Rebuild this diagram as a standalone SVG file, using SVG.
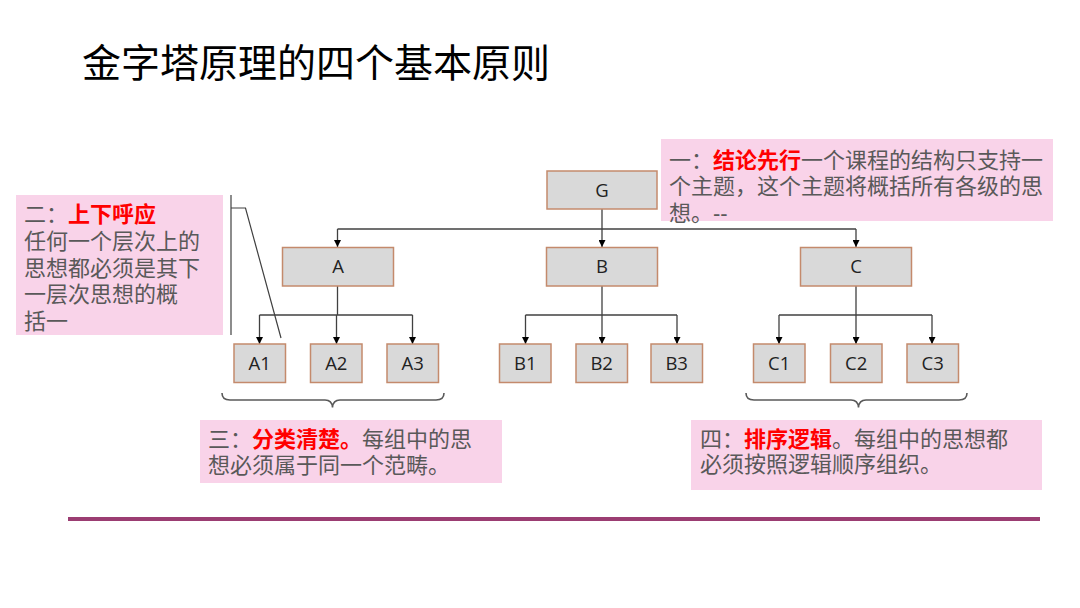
<svg xmlns="http://www.w3.org/2000/svg" width="1080" height="608" viewBox="0 0 1080 608" lang="zh-CN">
<defs>
<style>
.cjk{font-family:"Liberation Sans","Noto Sans CJK SC",sans-serif;}
.title{font-size:39px;fill:#000;}
.note{font-size:22px;fill:#595959;}
.red{fill:#ff0000;font-weight:bold;}
.pink{fill:#f9d3e9;}
.box{fill:#d9d9d9;stroke:#c48a6c;stroke-width:1.5;}
.lbl{font-family:"Open Sans","Liberation Sans",sans-serif;font-size:18.5px;fill:#222;text-anchor:middle;}
.conn{fill:none;stroke:#404040;stroke-width:1.3;}
.brace{fill:none;stroke:#595959;stroke-width:1.6;}
.thin{fill:none;stroke:#404040;stroke-width:1.2;}
</style>
<marker id="arr" viewBox="0 0 10 10" refX="10" refY="5" markerWidth="7" markerHeight="7" orient="auto" markerUnits="userSpaceOnUse">
<path d="M0,0 L10,5 L0,10 Z" fill="#000"/>
</marker>
</defs>
<rect width="1080" height="608" fill="#fff"/>
<text class="cjk title" x="82" y="77">金字塔原理的四个基本原则</text>

<g id="connectors">
<path class="conn" d="M602,209 V229"/>
<path class="conn" d="M337.5,229 H856"/>
<path class="conn" d="M337.5,229 V247" marker-end="url(#arr)"/>
<path class="conn" d="M602,229 V247" marker-end="url(#arr)"/>
<path class="conn" d="M856,229 V247" marker-end="url(#arr)"/>
<path class="conn" d="M337.5,286 V315"/>
<path class="conn" d="M259.5,315 H412.5"/>
<path class="conn" d="M259.5,315 V344" marker-end="url(#arr)"/>
<path class="conn" d="M336.5,315 V344" marker-end="url(#arr)"/>
<path class="conn" d="M412.5,315 V344" marker-end="url(#arr)"/>
<path class="conn" d="M602,286 V315"/>
<path class="conn" d="M525.5,315 H677"/>
<path class="conn" d="M525.5,315 V344" marker-end="url(#arr)"/>
<path class="conn" d="M602,315 V344" marker-end="url(#arr)"/>
<path class="conn" d="M677,315 V344" marker-end="url(#arr)"/>
<path class="conn" d="M856,286 V315"/>
<path class="conn" d="M779,315 H932"/>
<path class="conn" d="M779,315 V344" marker-end="url(#arr)"/>
<path class="conn" d="M856,315 V344" marker-end="url(#arr)"/>
<path class="conn" d="M932,315 V344" marker-end="url(#arr)"/>
<path class="thin" d="M231,195 V335"/>
<path class="thin" d="M231,208 H245.5 L281,338"/>
</g>

<g id="node-G"><rect class="box" x="547" y="171" width="110" height="38"/><text class="lbl" x="602" y="196.5">G</text></g>
<g id="node-A"><rect class="box" x="282.5" y="247.5" width="111" height="38.5"/><text class="lbl" x="338" y="273">A</text></g>
<g id="node-B"><rect class="box" x="546.5" y="247.5" width="111" height="38.5"/><text class="lbl" x="602" y="273">B</text></g>
<g id="node-C"><rect class="box" x="800.5" y="247.5" width="111" height="38.5"/><text class="lbl" x="856" y="273">C</text></g>

<g id="node-A1"><rect class="box" x="234" y="344" width="51.5" height="38.5"/><text class="lbl" x="259.7" y="370">A1</text></g>
<g id="node-A2"><rect class="box" x="310.5" y="344" width="51.5" height="38.5"/><text class="lbl" x="336.3" y="370">A2</text></g>
<g id="node-A3"><rect class="box" x="387" y="344" width="51.5" height="38.5"/><text class="lbl" x="412.7" y="370">A3</text></g>
<g id="node-B1"><rect class="box" x="499.5" y="344" width="51.5" height="38.5"/><text class="lbl" x="525.3" y="370">B1</text></g>
<g id="node-B2"><rect class="box" x="576" y="344" width="51.5" height="38.5"/><text class="lbl" x="601.7" y="370">B2</text></g>
<g id="node-B3"><rect class="box" x="651" y="344" width="51.5" height="38.5"/><text class="lbl" x="676.7" y="370">B3</text></g>
<g id="node-C1"><rect class="box" x="753.5" y="344" width="51.5" height="38.5"/><text class="lbl" x="779.2" y="370">C1</text></g>
<g id="node-C2"><rect class="box" x="830.5" y="344" width="51.5" height="38.5"/><text class="lbl" x="856.2" y="370">C2</text></g>
<g id="node-C3"><rect class="box" x="907" y="344" width="51.5" height="38.5"/><text class="lbl" x="932.7" y="370">C3</text></g>

<g id="brace-left"><path class="brace" d="M222,393 Q222,400 230,400 L325,400 Q332,400 332.5,407.5 Q333,400 340,400 L436,400 Q444,400 444,393"/></g>
<g id="brace-right"><path class="brace" d="M746,393 Q746,400 754,400 L851,400 Q858,400 858.5,407.5 Q859,400 866,400 L959,400 Q967,400 967,393"/></g>

<g id="note-1">
<rect class="pink" x="661" y="139" width="392" height="82"/>
<text class="cjk note"><tspan x="669" y="167.5">一：</tspan><tspan class="red">结论先行</tspan><tspan>一个课程的结构只支持一</tspan><tspan x="669" y="194">个主题，这个主题将概括所有各级的思</tspan><tspan x="669" y="220.5">想。--</tspan></text>
</g>

<g id="note-2">
<rect class="pink" x="16" y="195" width="207" height="140"/>
<text class="cjk note"><tspan x="24" y="222">二：</tspan><tspan class="red">上下呼应</tspan><tspan x="24" y="249">任何一个层次上的</tspan><tspan x="24" y="275.5">思想都必须是其下</tspan><tspan x="24" y="302">一层次思想的概</tspan><tspan x="24" y="328.5">括一</tspan></text>
</g>

<g id="note-3">
<rect class="pink" x="200" y="420" width="302" height="63"/>
<text class="cjk note"><tspan x="208" y="447">三：</tspan><tspan class="red">分类清楚。</tspan><tspan>每组中的思</tspan><tspan x="208" y="473">想必须属于同一个范畴。</tspan></text>
</g>

<g id="note-4">
<rect class="pink" x="691" y="420" width="351" height="70"/>
<text class="cjk note"><tspan x="700" y="447">四：</tspan><tspan class="red">排序逻辑</tspan><tspan>。每组中的思想都</tspan><tspan x="700" y="472">必须按照逻辑顺序组织。</tspan></text>
</g>

<line x1="68" y1="519" x2="1040" y2="519" stroke="#9b3d72" stroke-width="4"/>
</svg>
